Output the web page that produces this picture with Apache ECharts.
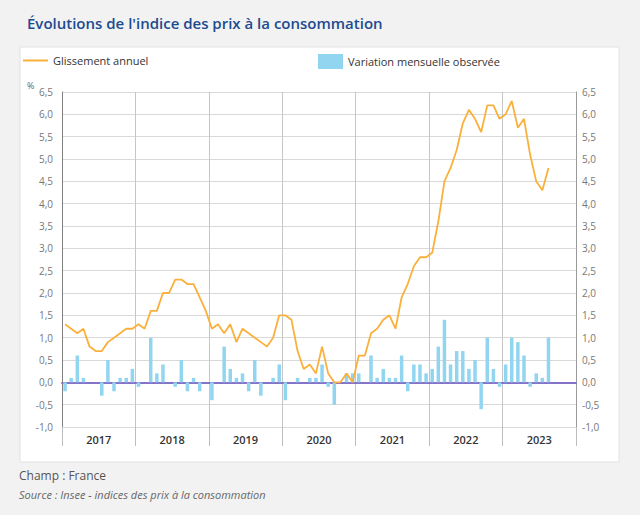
<!DOCTYPE html>
<html>
<head>
<meta charset="utf-8">
<script src="https://cdn.jsdelivr.net/npm/echarts@6/dist/echarts.min.js"></script>
<style>
html,body{margin:0;padding:0;background:#f2f2f2;}
#chart{width:640px;height:515px;}
</style>
</head>
<body>
<div id="chart"></div>
<script>
// ---- Data ----
var years = ['2017', '2018', '2019', '2020', '2021', '2022', '2023'];
var monthNames = ['janv', 'févr', 'mars', 'avr', 'mai', 'juin', 'juil', 'août', 'sept', 'oct', 'nov', 'déc'];
// Glissement annuel (%), janv. 2017 -> août 2023
var annual2017 = [1.3, 1.2, 1.1, 1.2, 0.8, 0.7, 0.7, 0.9, 1.0, 1.1, 1.2, 1.2];
var annual2018 = [1.3, 1.2, 1.6, 1.6, 2.0, 2.0, 2.3, 2.3, 2.2, 2.2, 1.9, 1.6];
var annual2019 = [1.2, 1.3, 1.1, 1.3, 0.9, 1.2, 1.1, 1.0, 0.9, 0.8, 1.0, 1.5];
var annual2020 = [1.5, 1.4, 0.7, 0.3, 0.4, 0.2, 0.8, 0.2, 0.0, 0.0, 0.2, 0.0];
var annual2021 = [0.6, 0.6, 1.1, 1.2, 1.4, 1.5, 1.2, 1.9, 2.2, 2.6, 2.8, 2.8];
var annual2022 = [2.9, 3.6, 4.5, 4.8, 5.2, 5.8, 6.1, 5.9, 5.6, 6.2, 6.2, 5.9];
var annual2023 = [6.0, 6.3, 5.7, 5.9, 5.1, 4.5, 4.3, 4.8];
// Variation mensuelle observée (%)
var monthly2017 = [-0.2, 0.1, 0.6, 0.1, 0.0, 0.0, -0.3, 0.5, -0.2, 0.1, 0.1, 0.3];
var monthly2018 = [-0.1, 0.0, 1.0, 0.2, 0.4, 0.0, -0.1, 0.5, -0.2, 0.1, -0.2, 0.0];
var monthly2019 = [-0.4, 0.0, 0.8, 0.3, 0.1, 0.2, -0.2, 0.5, -0.3, 0.0, 0.1, 0.4];
var monthly2020 = [-0.4, 0.0, 0.1, 0.0, 0.1, 0.1, 0.4, -0.1, -0.5, 0.0, 0.2, 0.2];
var monthly2021 = [0.2, 0.0, 0.6, 0.1, 0.3, 0.1, 0.1, 0.6, -0.2, 0.4, 0.4, 0.2];
var monthly2022 = [0.3, 0.8, 1.4, 0.4, 0.7, 0.7, 0.3, 0.5, -0.6, 1.0, 0.3, -0.1];
var monthly2023 = [0.4, 1.0, 0.9, 0.6, -0.1, 0.2, 0.1, 1.0];
var yTicks = {min: -1.0, max: 6.5, interval: 0.5};

// ---- Build ----
var months = [];
years.forEach(function (y) { monthNames.forEach(function (m) { months.push(m + ' ' + y); }); });
var annual = [].concat(annual2017, annual2018, annual2019, annual2020, annual2021, annual2022, annual2023);
var monthly = [].concat(monthly2017, monthly2018, monthly2019, monthly2020, monthly2021, monthly2022, monthly2023);

var fmt = function (v) { return v.toFixed(1).replace('.', ','); };
var FONT = 'Open Sans';
var LINE_COLOR = '#fbb03b';
var BAR_COLOR = '#92d5f1';

var chart = echarts.init(document.getElementById('chart'), null, {renderer: 'svg'});
chart.setOption({
  backgroundColor: '#f2f2f2',
  textStyle: {fontFamily: FONT},
  animation: false,
  graphic: [{
    type: 'rect', z: -1, silent: true,
    shape: {x: 20, y: 47, width: 599, height: 415},
    style: {fill: '#ffffff', stroke: '#e2e2e2', lineWidth: 1}
  }],
  title: [
    {text: "Évolutions de l'indice des prix à la consommation", left: 27, top: 15, padding: 0,
     textStyle: {fontFamily: FONT, fontWeight: 600, fontSize: 15, color: '#1d4b8f'}},
    {text: '%', left: 27, top: 81, padding: 0,
     textStyle: {fontFamily: FONT, fontWeight: 'normal', fontSize: 9, color: '#666'}},
    {text: 'Champ : France', left: 19, top: 469, padding: 0,
     textStyle: {fontFamily: FONT, fontWeight: 'normal', fontSize: 12, color: '#555'}},
    {text: 'Source : Insee - indices des prix à la consommation', left: 19, top: 489, padding: 0,
     textStyle: {fontFamily: FONT, fontWeight: 'normal', fontStyle: 'italic', fontSize: 11, color: '#666'}}
  ],
  legend: [
    {left: 23, top: 55, itemWidth: 25, itemHeight: 2, padding: 0, icon: 'rect',
     textStyle: {fontFamily: FONT, fontSize: 11, color: '#333'},
     data: [{name: 'Glissement annuel', icon: 'rect', itemStyle: {color: LINE_COLOR}}]},
    {left: 318, top: 54, itemWidth: 25, itemHeight: 15, padding: 0, icon: 'rect',
     textStyle: {fontFamily: FONT, fontSize: 11, color: '#333'},
     data: ['Variation mensuelle observée']}
  ],
  grid: {left: 62, right: 64, top: 92, bottom: 88, containLabel: false},
  xAxis: [
    {type: 'category', data: months, position: 'bottom', boundaryGap: true,
     axisLine: {show: true, onZero: true, lineStyle: {color: '#8572c9', width: 2}},
     axisTick: {show: false}, axisLabel: {show: false}, splitLine: {show: false}},
    {type: 'category', data: years, position: 'bottom', boundaryGap: true,
     axisLine: {show: false, onZero: false},
     axisTick: {show: true, length: 19, lineStyle: {color: '#bdbdbd'}},
     axisLabel: {show: true, margin: 7, fontFamily: FONT, fontSize: 11, color: '#333', fontWeight: 600},
     splitLine: {show: true, lineStyle: {color: '#c6c6c6', width: 1}}}
  ],
  yAxis: [
    {type: 'value', min: yTicks.min, max: yTicks.max, interval: yTicks.interval, position: 'left',
     axisLine: {show: true, lineStyle: {color: '#808080'}}, axisTick: {show: false},
     axisLabel: {formatter: fmt, margin: 9, fontFamily: FONT, fontSize: 10, color: '#777'},
     splitLine: {show: true, lineStyle: {color: '#d9d9d9'}}},
    {type: 'value', min: yTicks.min, max: yTicks.max, interval: yTicks.interval, position: 'right',
     axisLine: {show: true, lineStyle: {color: '#9a9a9a'}}, axisTick: {show: false},
     axisLabel: {formatter: fmt, margin: 6, fontFamily: FONT, fontSize: 10, color: '#777'},
     splitLine: {show: false}}
  ],
  series: [
    {name: 'Variation mensuelle observée', type: 'bar', xAxisIndex: 0, yAxisIndex: 0,
     data: monthly, barWidth: 3.5, itemStyle: {color: BAR_COLOR}},
    {name: 'Glissement annuel', type: 'line', xAxisIndex: 0, yAxisIndex: 0,
     data: annual, symbol: 'none', showSymbol: false,
     lineStyle: {color: LINE_COLOR, width: 1.8}, itemStyle: {color: LINE_COLOR}, z: 3}
  ]
});
</script>
</body>
</html>
